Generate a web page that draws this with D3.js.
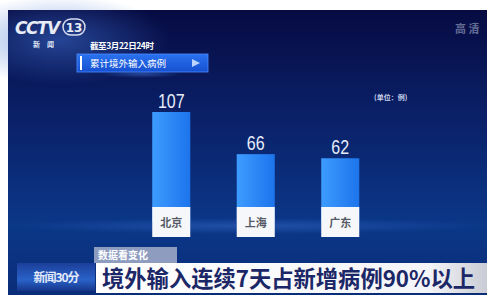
<!DOCTYPE html>
<html>
<head>
<meta charset="utf-8">
<script src="https://cdn.jsdelivr.net/npm/d3@7"></script>
<style>
  body { margin: 0; background: #fff; }
  svg { display: block; }
  text { font-family: "Noto Sans CJK SC", "Noto Sans", sans-serif; }
</style>
</head>
<body>
<div id="chart"></div>
<script>
// data
var categories = ["北京", "上海", "广东"];
var values = [107, 66, 62];
var dateLabel = "截至3月22日24时";
var seriesLabel = "累计境外输入病例";
var unitLabel = "(单位：例)";
var headline = "境外输入连续7天占新增病例90%以上";
var tagLabel = "数据看变化";

var W = 487, H = 297;

var svg = d3.select("#chart").append("svg")
    .attr("width", W)
    .attr("height", H);

var defs = svg.append("defs");

// background gradient
var bg = defs.append("linearGradient").attr("id", "bg")
    .attr("x1", 0).attr("y1", 0).attr("x2", 0).attr("y2", 1);
bg.append("stop").attr("offset", "0%").attr("stop-color", "#070b42");
bg.append("stop").attr("offset", "35%").attr("stop-color", "#0a1f66");
bg.append("stop").attr("offset", "75%").attr("stop-color", "#0b3788");
bg.append("stop").attr("offset", "100%").attr("stop-color", "#0a2d78");

var glow = defs.append("radialGradient").attr("id", "glow")
    .attr("cx", "50%").attr("cy", "50%").attr("r", "50%");
glow.append("stop").attr("offset", "0%").attr("stop-color", "#3d6fd0").attr("stop-opacity", 0.55);
glow.append("stop").attr("offset", "100%").attr("stop-color", "#3d6fd0").attr("stop-opacity", 0);

var barGrad = defs.append("linearGradient").attr("id", "barGrad")
    .attr("x1", 0).attr("y1", 0).attr("x2", 1).attr("y2", 0);
barGrad.append("stop").attr("offset", "0%").attr("stop-color", "#3d9cff");
barGrad.append("stop").attr("offset", "100%").attr("stop-color", "#1d74ec");

var btnGrad = defs.append("linearGradient").attr("id", "btnGrad")
    .attr("x1", 0).attr("y1", 0).attr("x2", 0).attr("y2", 1);
btnGrad.append("stop").attr("offset", "0%").attr("stop-color", "#2a72f0");
btnGrad.append("stop").attr("offset", "100%").attr("stop-color", "#1650d0");

var logoGrad = defs.append("linearGradient").attr("id", "logoGrad")
    .attr("x1", 0).attr("y1", 0).attr("x2", 0).attr("y2", 1);
logoGrad.append("stop").attr("offset", "0%").attr("stop-color", "#1c3f9a");
logoGrad.append("stop").attr("offset", "60%").attr("stop-color", "#2a62c8");
logoGrad.append("stop").attr("offset", "100%").attr("stop-color", "#15358a");

// frame
svg.append("rect").attr("x", 8).attr("y", 10).attr("width", W - 8).attr("height", 285)
    .attr("fill", "url(#bg)");
svg.append("ellipse").attr("cx", 60).attr("cy", 40).attr("rx", 110).attr("ry", 45)
    .attr("fill", "url(#glow)");
// floor glow
svg.append("ellipse").attr("cx", 250).attr("cy", 226).attr("rx", 240).attr("ry", 8)
    .attr("fill", "url(#glow)").attr("opacity", 0.8);

// scales
var x = d3.scaleBand().domain(categories).range([129, 382.5])
    .paddingInner(0.55).paddingOuter(0.275);
var y = d3.scaleLinear().domain([0, d3.max(values)]).range([222, 112]);

var data = categories.map(function(c, i) { return {cat: c, val: values[i]}; });

// bars
svg.selectAll(".bar")
    .data(data)
  .enter().append("rect")
    .attr("class", "bar")
    .attr("x", function(d) { return x(d.cat); })
    .attr("y", function(d) { return y(d.val); })
    .attr("width", x.bandwidth())
    .attr("height", function(d) { return y(0) - y(d.val); })
    .attr("fill", "url(#barGrad)");

// value labels (condensed look)
svg.selectAll(".val")
    .data(data)
  .enter().append("text")
    .attr("class", "val")
    .attr("transform", function(d) {
      return "translate(" + (x(d.cat) + x.bandwidth() / 2) + "," + (y(d.val) - 4) + ") scale(0.8,1)";
    })
    .attr("text-anchor", "middle")
    .attr("fill", "#e6ecf8")
    .style("font-family", "'Liberation Sans', Arial, sans-serif")
    .style("font-size", "20px")
    .text(function(d) { return d.val; });

// category boxes (axis)
var axis = svg.append("g").attr("class", "xAxis")
    .attr("transform", "translate(0,207)")
    .call(d3.axisBottom(x).tickSize(0).tickPadding(0));
axis.select(".domain").remove();
axis.selectAll(".tick").insert("rect", "text")
    .attr("x", -x.bandwidth() / 2)
    .attr("y", 0)
    .attr("width", x.bandwidth())
    .attr("height", 30)
    .attr("fill", "#f6f7fa");
axis.selectAll(".tick text")
    .attr("y", 20)
    .attr("dy", 0)
    .attr("fill", "#555a66")
    .style("font-family", "'Noto Sans CJK SC', sans-serif")
    .style("font-size", "11px")
    .style("font-weight", "bold");

// unit
svg.append("text").attr("x", 374).attr("y", 100)
    .attr("fill", "#c9d3ea").style("font-size", "7px").style("font-weight", "bold")
    .text(unitLabel);

// CCTV logo
svg.append("text").attr("x", 15).attr("y", 34)
    .attr("fill", "#e8ecf6")
    .style("font-family", "'DejaVu Sans', sans-serif")
    .style("font-weight", "bold").style("font-style", "italic")
    .style("font-size", "17px").attr("letter-spacing", -1.5)
    .text("CCTV");
svg.append("rect").attr("x", 63).attr("y", 19).attr("width", 22).attr("height", 16)
    .attr("rx", 8).attr("fill", "none").attr("stroke", "#d8deee").attr("stroke-width", 1.5);
svg.append("text").attr("x", 74).attr("y", 32).attr("text-anchor", "middle")
    .attr("fill", "#e8ecf6").style("font-weight", "bold").style("font-size", "12px")
    .style("font-family", "'DejaVu Sans', sans-serif")
    .text("13");
svg.append("text").attr("x", 33).attr("y", 47)
    .attr("fill", "#dfe5f3").style("font-size", "7px").style("font-weight", "bold")
    .text("新　闻");

// high-def mark
svg.append("text").attr("x", 455).attr("y", 33)
    .attr("fill", "#7b84a8").attr("opacity", 0.8)
    .style("font-size", "11px").style("font-weight", "bold")
    .text("高 清");

// date
svg.append("text").attr("x", 90).attr("y", 49)
    .attr("fill", "#ffffff").style("font-size", "8.5px").style("font-weight", "bold")
    .attr("letter-spacing", -0.4)
    .text(dateLabel);

// series button
svg.append("ellipse").attr("cx", 142).attr("cy", 74).attr("rx", 40).attr("ry", 4)
    .attr("fill", "url(#glow)");
svg.append("rect").attr("x", 77).attr("y", 54).attr("width", 131).attr("height", 18)
    .attr("fill", "url(#btnGrad)").attr("stroke", "#4d8cff").attr("stroke-width", 0.8);
svg.append("rect").attr("x", 80).attr("y", 56).attr("width", 2).attr("height", 14)
    .attr("fill", "#ffffff");
svg.append("text").attr("x", 90).attr("y", 67)
    .attr("fill", "#ffffff").style("font-size", "9.5px")
    .text(seriesLabel);
svg.append("path").attr("d", "M192,59 L200,63 L192,67 Z").attr("fill", "#bcd3ff");

// bottom news logo
svg.append("rect").attr("x", 17).attr("y", 263).attr("width", 78).attr("height", 28)
    .attr("fill", "url(#logoGrad)");
svg.append("text").attr("x", 56).attr("y", 282).attr("text-anchor", "middle")
    .attr("fill", "#e4ebfa").style("font-size", "12px").style("font-weight", "bold")
    .attr("letter-spacing", -1)
    .text("新闻30分");

// tag
svg.append("rect").attr("x", 94).attr("y", 247).attr("width", 83).attr("height", 16)
    .attr("fill", "#8e9dbf");
svg.append("text").attr("x", 98).attr("y", 258.5)
    .attr("fill", "#ffffff").style("font-size", "10px").style("font-weight", "bold")
    .text(tagLabel);

// headline
var hg = defs.append("linearGradient").attr("id", "hg")
    .attr("x1", 0).attr("y1", 0).attr("x2", 1).attr("y2", 0);
hg.append("stop").attr("offset", "0%").attr("stop-color", "#ffffff");
hg.append("stop").attr("offset", "85%").attr("stop-color", "#f4f5f8");
hg.append("stop").attr("offset", "100%").attr("stop-color", "#c9ccd4");
svg.append("rect").attr("x", 96).attr("y", 263).attr("width", W - 96).attr("height", 30)
    .attr("fill", "url(#hg)");
svg.append("text").attr("x", 102).attr("y", 286.5)
    .attr("fill", "#1b2766").style("font-size", "22.3px").style("font-weight", "bold")
    .text(headline);
</script>
</body>
</html>
